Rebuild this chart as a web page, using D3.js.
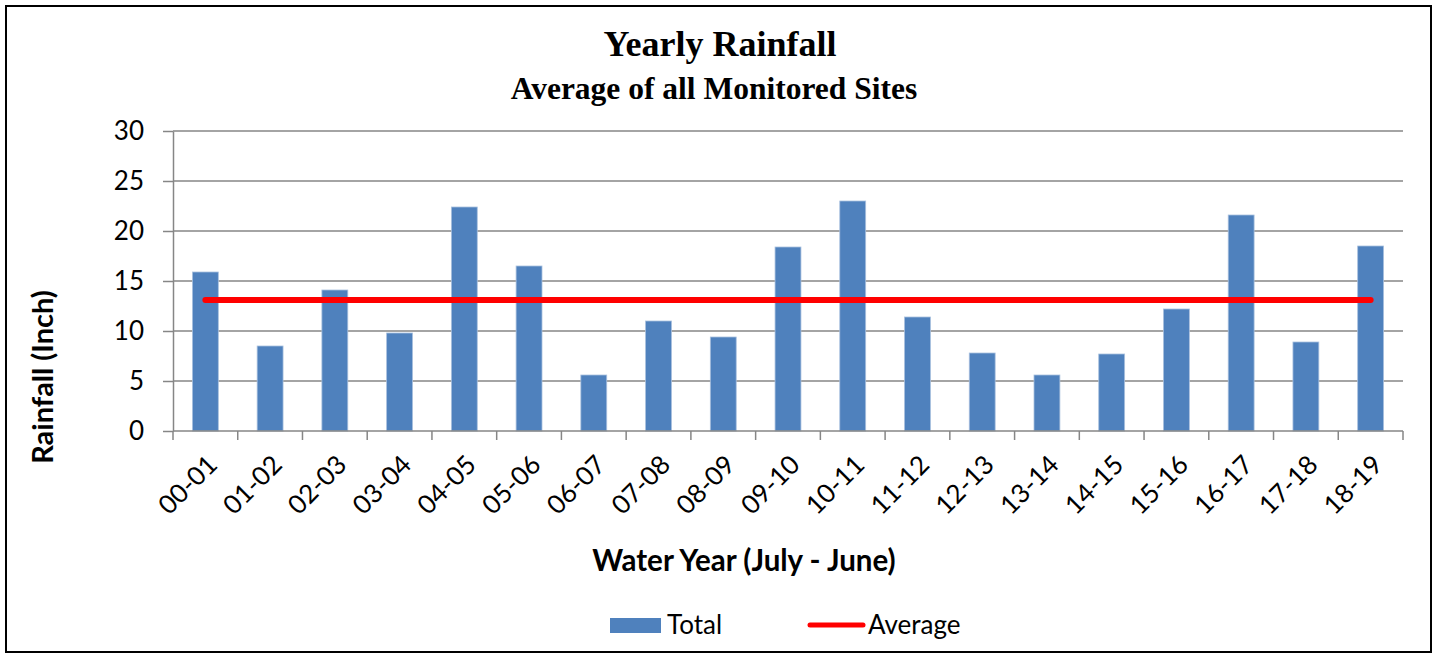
<!DOCTYPE html>
<html>
<head>
<meta charset="utf-8">
<script src="https://cdn.jsdelivr.net/npm/d3@7"></script>
<style>
  body { margin: 0; background: #fff; }
  svg { display: block; }
</style>
</head>
<body>
<div id="chart"></div>
<script>
// set width/height
const WIDTH = 1439;
const HEIGHT = 654;
// plot area
const MARGIN = { TOP: 131, RIGHT: 36, BOTTOM: 223, LEFT: 173 };

// data
const years = ["00-01", "01-02", "02-03", "03-04", "04-05", "05-06", "06-07", "07-08", "08-09", "09-10",
    "10-11", "11-12", "12-13", "13-14", "14-15", "15-16", "16-17", "17-18", "18-19"];
const totals = [15.9, 8.5, 14.1, 9.8, 22.4, 16.5, 5.6, 11.0, 9.4, 18.4,
    23.0, 11.4, 7.8, 5.6, 7.7, 12.2, 21.6, 8.9, 18.5];
const average = 13.1;
const yTicks = [0, 5, 10, 15, 20, 25, 30];

const FONT = "Lato, 'Open Sans', sans-serif";
const SERIF = "'Liberation Serif', 'Times New Roman', serif";
const BLUE = "#4f81bd";
const GRID = "#868686";

let rows = years.map((y, i) => ({ year: y, total: totals[i] }));

let xScale = d3.scaleBand()
    .domain(years)
    .range([MARGIN.LEFT, WIDTH - MARGIN.RIGHT])
    .paddingInner(0.6)
    .paddingOuter(0.3);

let yScale = d3.scaleLinear()
    .domain([0, 30])
    .range([HEIGHT - MARGIN.BOTTOM, MARGIN.TOP]);

let svg = d3.select("#chart")
    .append("svg")
    .attr("width", WIDTH)
    .attr("height", HEIGHT);

// outer frame
svg.append("rect")
    .attr("x", 6).attr("y", 6)
    .attr("width", 1425).attr("height", 646)
    .attr("fill", "none")
    .attr("stroke", "#000")
    .attr("stroke-width", 2);

// gridlines
svg.append("g")
    .selectAll("line")
    .data(yTicks.slice(1))
    .join("line")
    .attr("x1", MARGIN.LEFT)
    .attr("x2", WIDTH - MARGIN.RIGHT)
    .attr("y1", d => yScale(d))
    .attr("y2", d => yScale(d))
    .attr("stroke", GRID)
    .attr("stroke-width", 1.5);

// y axis
let yAxis = d3.axisLeft(yScale)
    .tickValues(yTicks)
    .tickSize(10)
    .tickPadding(19)
    .tickSizeOuter(0);

let gy = svg.append("g")
    .attr("transform", `translate(${MARGIN.LEFT},0)`)
    .call(yAxis);
gy.select(".domain").attr("stroke", GRID).attr("stroke-width", 1.5);
gy.selectAll(".tick line").attr("stroke", GRID).attr("stroke-width", 1.5);
gy.selectAll(".tick text")
    .attr("font-family", FONT)
    .attr("font-size", 26)
    .attr("fill", "#000");

// bars
svg.append("g")
    .selectAll("rect")
    .data(rows)
    .join("rect")
    .attr("x", d => xScale(d.year))
    .attr("y", d => yScale(d.total))
    .attr("width", xScale.bandwidth())
    .attr("height", d => yScale(0) - yScale(d.total))
    .attr("fill", BLUE)
    .attr("stroke", "#a9c0de")
    .attr("stroke-width", 0.8);

// x axis line and category boundary ticks
let step = xScale.step();
let x0 = xScale.range()[0];
let gx = svg.append("g");
gx.append("line")
    .attr("x1", x0).attr("x2", xScale.range()[1])
    .attr("y1", yScale(0)).attr("y2", yScale(0))
    .attr("stroke", GRID).attr("stroke-width", 1.5);
gx.selectAll(".xt")
    .data(d3.range(years.length + 1))
    .join("line")
    .attr("class", "xt")
    .attr("x1", i => x0 + i * step).attr("x2", i => x0 + i * step)
    .attr("y1", yScale(0)).attr("y2", yScale(0) + 9)
    .attr("stroke", GRID).attr("stroke-width", 1.5);

// rotated category labels
gx.selectAll(".xl")
    .data(years)
    .join("text")
    .attr("class", "xl")
    .attr("transform", d => `translate(${xScale(d) + xScale.bandwidth() / 2 + 7},${yScale(0) + 29}) rotate(-45)`)
    .attr("text-anchor", "end")
    .attr("dy", "0.35em")
    .attr("font-family", FONT)
    .attr("font-size", 26)
    .attr("fill", "#000")
    .text(d => d);

// average line
svg.append("line")
    .attr("x1", xScale(years[0]) + xScale.bandwidth() / 2)
    .attr("x2", xScale(years[years.length - 1]) + xScale.bandwidth() / 2)
    .attr("y1", yScale(average))
    .attr("y2", yScale(average))
    .attr("stroke", "#ff0000")
    .attr("stroke-width", 6)
    .attr("stroke-linecap", "round");

// titles
svg.append("text")
    .attr("x", 720).attr("y", 56)
    .attr("text-anchor", "middle")
    .attr("font-family", SERIF)
    .attr("font-weight", "bold")
    .attr("font-size", 36)
    .text("Yearly Rainfall");

svg.append("text")
    .attr("x", 714).attr("y", 99)
    .attr("text-anchor", "middle")
    .attr("font-family", SERIF)
    .attr("font-weight", "bold")
    .attr("font-size", 31.5)
    .text("Average of all Monitored Sites");

svg.append("text")
    .attr("transform", "translate(53,377) rotate(-90)")
    .attr("text-anchor", "middle")
    .attr("font-family", FONT)
    .attr("font-weight", "bold")
    .attr("font-size", 29)
    .text("Rainfall (Inch)");

svg.append("text")
    .attr("x", 744).attr("y", 571)
    .attr("text-anchor", "middle")
    .attr("font-family", FONT)
    .attr("font-weight", "bold")
    .attr("font-size", 29.5)
    .text("Water Year (July - June)");

// legend
let legend = svg.append("g");
legend.append("rect")
    .attr("x", 610).attr("y", 618)
    .attr("width", 51).attr("height", 15)
    .attr("fill", BLUE);
legend.append("text")
    .attr("x", 667).attr("y", 634)
    .attr("font-family", FONT)
    .attr("font-size", 26)
    .text("Total");
legend.append("line")
    .attr("x1", 810).attr("x2", 863)
    .attr("y1", 625).attr("y2", 625)
    .attr("stroke", "#ff0000")
    .attr("stroke-width", 5)
    .attr("stroke-linecap", "round");
legend.append("text")
    .attr("x", 868).attr("y", 634)
    .attr("font-family", FONT)
    .attr("font-size", 26)
    .text("Average");
</script>
</body>
</html>
